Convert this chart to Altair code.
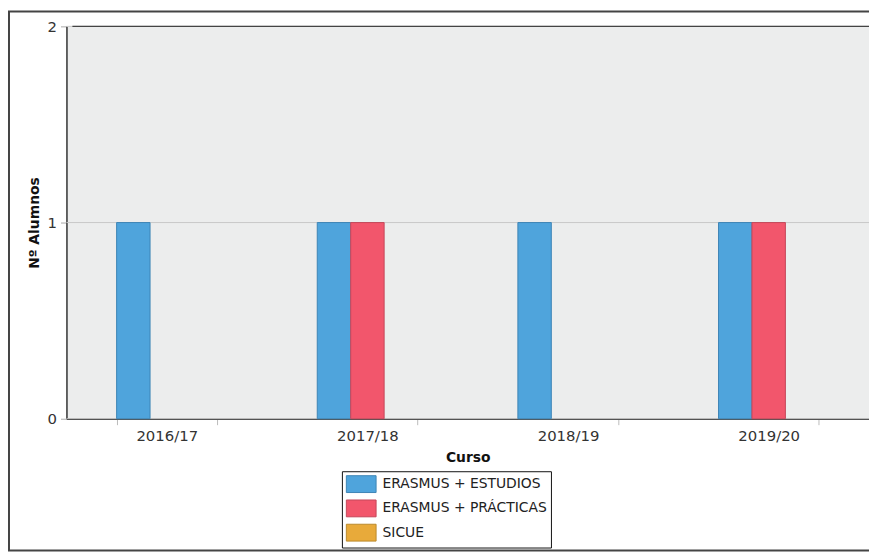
import altair as alt
import pandas as pd

cursos = ["2016/17", "2017/18", "2018/19", "2019/20"]
series = ["ERASMUS + ESTUDIOS", "ERASMUS + PRÁCTICAS", "SICUE"]
estudios = [1, 1, 1, 1]
practicas = [0, 1, 0, 1]
sicue = [0, 0, 0, 0]
y_ticks = [0, 1, 2]
fill_colors = ["#4FA4DC", "#F2566C", "#E8AA3A"]
stroke_colors = ["#3E85B5", "#C4485A", "#BB8A2E"]

rows = []
for s, vals in zip(series, [estudios, practicas, sicue]):
    for c, v in zip(cursos, vals):
        rows.append({"Curso": c, "Serie": s, "Alumnos": v})
df = pd.DataFrame(rows)
ticks_df = pd.DataFrame({"Alumnos": y_ticks})

FONT = "DejaVu Sans"
rect_path = "M-1,-1H2.53V1H-1Z"

legend = alt.Legend(
    title=None, orient="none", legendX=278, legendY=449,
    padding=4, strokeColor="#111111", fillColor="white",
    symbolType=rect_path, symbolSize=289, symbolStrokeWidth=1,
    labelFont=FONT, labelFontSize=14, labelColor="#222222", labelLimit=400,
    labelOffset=19, rowPadding=2.5, cornerRadius=0,
)

y_scale = alt.Scale(domain=[0, 2], nice=False, zero=True)
y_axis = alt.Axis(title="Nº Alumnos", tickCount=2, labelExpr="format(datum.value, 'd')", grid=False,
                  labelOverlap=False, labelFlush=False,
                  tickColor="#AAAAAA", tickSize=6, labelPadding=4,
                  titlePadding=6, domainColor="#333333", domainWidth=1.5,
                  labelFont=FONT, labelFontSize=15, labelColor="#333333",
                  titleFont=FONT, titleFontSize=14, titleFontWeight="bold", titleColor="#111111")

grid = alt.Chart(ticks_df).mark_rule(color="#C8C8C8", strokeWidth=1).encode(
    y=alt.Y("Alumnos:Q", scale=y_scale, axis=y_axis)
)

bars = alt.Chart(df).transform_filter(alt.datum.Alumnos > 0).mark_bar(strokeWidth=1).encode(
    x=alt.X("Curso:N", sort=cursos,
            scale=alt.Scale(domain=cursos, paddingInner=0.5, paddingOuter=0.25),
            axis=alt.Axis(title="Curso", labelAngle=0, tickBand="extent", tickColor="#BBBBBB",
                          tickSize=6, labelPadding=3.5, titlePadding=7.5, domainColor="#333333",
                          domainWidth=1.5, labelFont=FONT, labelFontSize=15, labelColor="#333333",
                          titleFont=FONT, titleFontSize=14, titleFontWeight="bold", titleColor="#111111")),
    xOffset=alt.XOffset("Serie:N", sort=series,
                        scale=alt.Scale(domain=series, paddingInner=0, paddingOuter=0)),
    y=alt.Y("Alumnos:Q", scale=y_scale, axis=y_axis),
    fill=alt.Fill("Serie:N", scale=alt.Scale(domain=series, range=fill_colors), legend=legend),
    stroke=alt.Stroke("Serie:N", scale=alt.Scale(domain=series, range=stroke_colors), legend=legend),
)

top_rule = alt.Chart(pd.DataFrame({"a": [0]})).mark_rule(color="#444444", strokeWidth=1.5).encode(
    y=alt.value(0), x=alt.value(6), x2=alt.value(830))

frame = alt.Chart(pd.DataFrame({"a": [0]})).mark_rect(
    filled=False, stroke="#444444", strokeWidth=2
).encode(x=alt.value(-58), x2=alt.value(830), y=alt.value(-15), y2=alt.value(529))

chart = alt.layer(grid, bars, top_rule, frame).properties(
    width=810, height=396,
    autosize=alt.AutoSizeParams(type="none"),
    padding={"left": 59, "top": 16, "right": 0, "bottom": 135},
    background="white",
).configure_view(fill="#ECEDED", strokeWidth=0).configure_axisY(labelFontSize=15)

chart.save("out.html", embed_options={"renderer": "svg", "actions": False})
